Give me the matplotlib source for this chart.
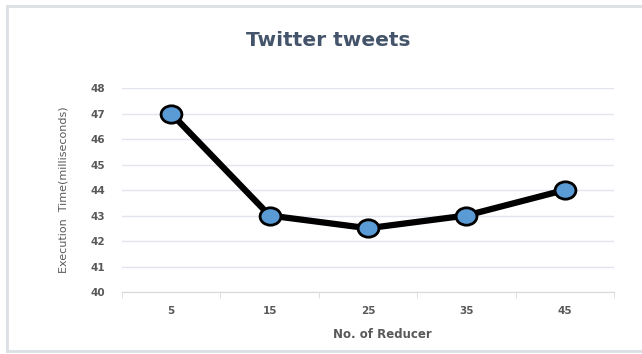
import matplotlib
matplotlib.use('Agg')
import matplotlib.pyplot as plt
from matplotlib.path import Path
from matplotlib.transforms import Affine2D

plt.rcParams['font.family'] = ['DejaVu Sans']

reducers = ['5', '15', '25', '35', '45']
exec_time = [47, 43, 42.5, 43, 44]
y_ticks = [40, 41, 42, 43, 44, 45, 46, 47, 48]

txt = '#595959'
border = '#dcdfe4'
fig = plt.figure(figsize=(6.42, 3.54), dpi=100)
fig.patch.set_facecolor('white')
# chart border: top, left, bottom only
fig.add_artist(plt.Line2D([7/642, 1], [1 - 6/354, 1 - 6/354], transform=fig.transFigure, color=border, lw=2))
fig.add_artist(plt.Line2D([7/642, 7/642], [1 - 6/354, 1 - 351/354], transform=fig.transFigure, color=border, lw=2))
fig.add_artist(plt.Line2D([7/642, 1], [1 - 351/354, 1 - 351/354], transform=fig.transFigure, color=border, lw=2))

# slightly wide oval marker
oval = Affine2D().scale(1.2, 1.0).transform_path(Path.unit_circle())

ax = fig.add_axes([122/642, 1 - 292/354, (614 - 122)/642, (292 - 88)/354])
x = list(range(len(reducers)))
ax.plot(x, exec_time, color='black', linewidth=4.5, marker=oval, markersize=15,
        markerfacecolor='#5b9bd5', markeredgecolor='black', markeredgewidth=2,
        solid_capstyle='round', zorder=3)

ax.set_xlim(-0.5, len(reducers) - 0.5)
ax.set_ylim(40, 48)
ax.set_yticks(y_ticks)
ax.set_xticks(x)
ax.set_xticklabels(reducers)
ax.grid(axis='y', color='#e1e5ec', linewidth=1)
ax.set_axisbelow(True)
for s in ['top', 'right', 'left']:
    ax.spines[s].set_visible(False)
ax.spines['bottom'].set_color('#d9d9d9')
ax.tick_params(axis='y', length=0, labelsize=7.5, labelcolor=txt, pad=12)
ax.tick_params(axis='x', length=0, labelsize=7.5, labelcolor=txt, pad=10)
# minor ticks between categories
ax.set_xticks([i - 0.5 for i in range(len(reducers) + 1)], minor=True)
ax.tick_params(axis='x', which='minor', length=4, color='#d9d9d9')
for lab in ax.get_yticklabels() + ax.get_xticklabels():
    lab.set_fontweight('bold')

ax.set_xlabel('No. of Reducer', fontsize=8.5, color=txt, fontweight='bold')
ax.xaxis.set_label_coords((382 - 122) / 492, (292 - 334) / 204)
ax.xaxis.label.set_va('center')
ax.set_ylabel('Execution  Time(milliseconds)', fontsize=8, color=txt, labelpad=16)
fig.text(328/642, 1 - 41/354, 'Twitter tweets', ha='center', va='center', fontsize=14.5,
         fontweight='bold', color='#44546a')

fig.savefig('out.png', dpi=100)
